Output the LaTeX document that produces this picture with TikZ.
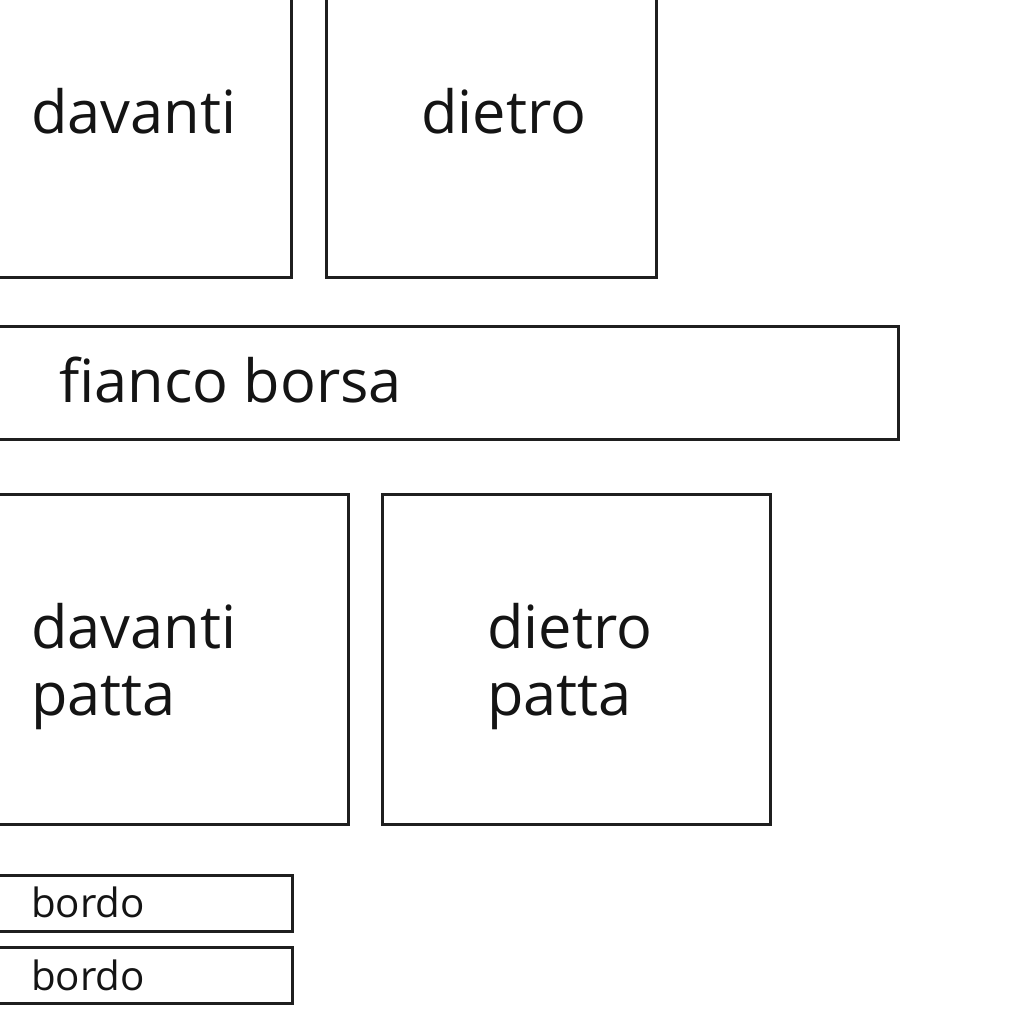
\documentclass[tikz,border=0pt]{standalone}
\usepackage{fontspec}
\setmainfont{Open Sans}
\begin{document}
\begin{tikzpicture}[x=1pt,y=-1pt,
  piece/.style={draw=black!88,line width=3pt},
  lbl/.style={anchor=base west,inner sep=0pt,text=black!92,font=\fontsize{59.5}{67}\selectfont},
  small/.style={anchor=base west,inner sep=0pt,text=black!92,font=\fontsize{40.3}{46}\selectfont}]
\useasboundingbox (0,0) rectangle (1024,1024);
\clip (0,0) rectangle (1024,1024);
\fill[white] (0,0) rectangle (1024,1024);
% pieces
\draw[piece] (-10,-10) rectangle (291,277.5);
\draw[piece] (326,-10) rectangle (656.5,277.5);
\draw[piece] (-10,326.7) rectangle (898,439.3);
\draw[piece] (-10,494.5) rectangle (348.5,824.7);
\draw[piece] (382,494.5) rectangle (770,824.7);
\draw[piece] (-10,875) rectangle (292,931);
\draw[piece] (-10,947) rectangle (292,1003.5);
% labels
\node[lbl] (tdavanti) at (31,134) {davanti};
\node[lbl] (tdietro) at (421,134) {dietro};
\node[lbl] (tfianco) at (59,402) {fianco borsa};
\node[lbl] (tdavp1) at (31,648) {davanti};
\node[lbl] (tdavp2) at (31,715) {patta};
\node[lbl] (tdiep1) at (487,648) {dietro};
\node[lbl] (tdiep2) at (487,715) {patta};
\node[small] (tbordo1) at (31,917.3) {bordo};
\node[small] (tbordo2) at (31,990.7) {bordo};
\end{tikzpicture}
\end{document}
